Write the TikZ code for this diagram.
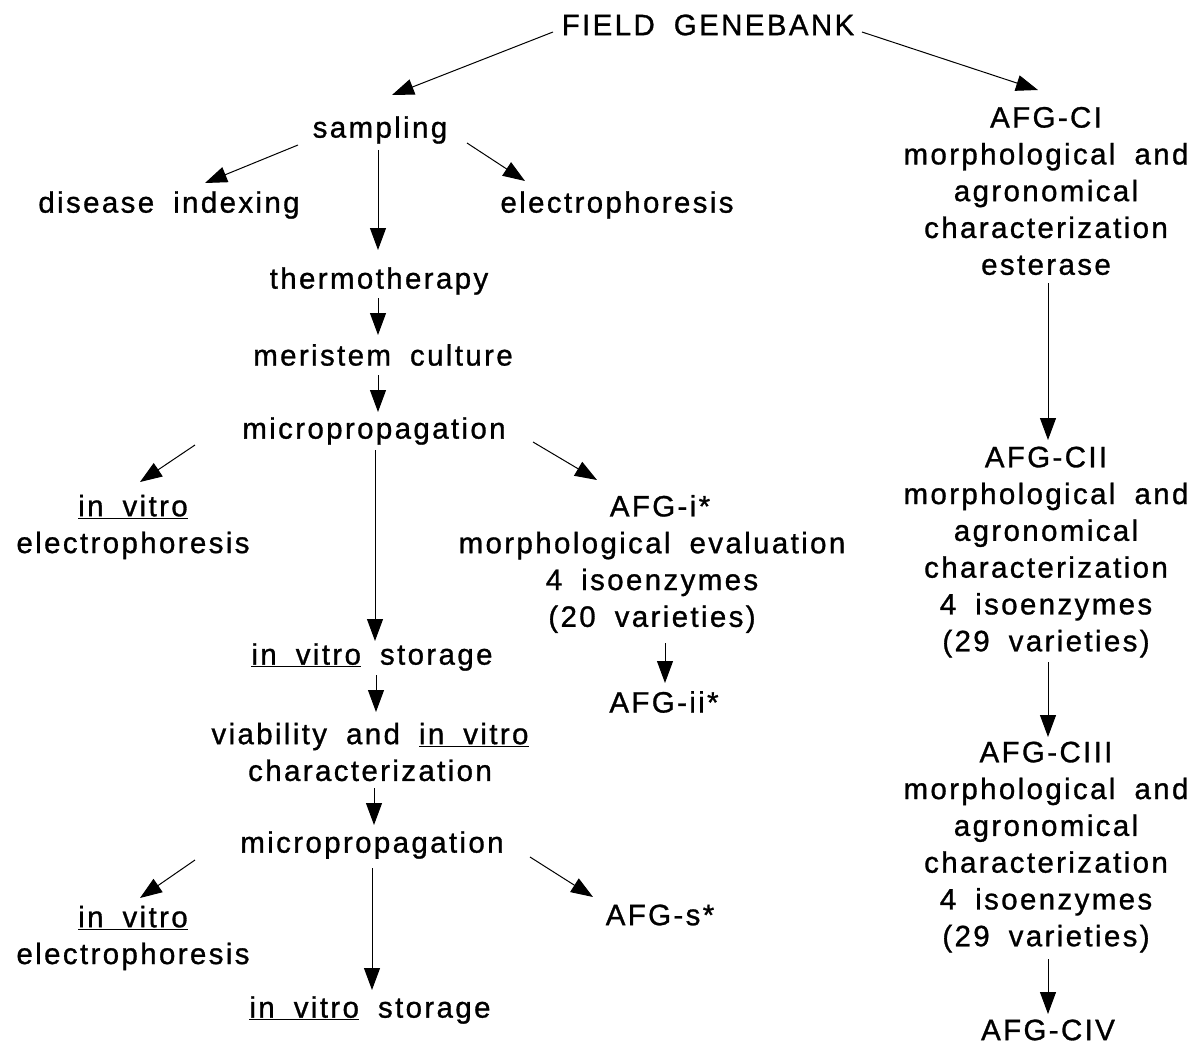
\documentclass[tikz,border=0pt]{standalone}
\usepackage{fontspec}
\setmainfont{Liberation Sans}[LetterSpace=8,WordSpace=1.8,FakeBold=1]
\usetikzlibrary{arrows.meta,calc}
\begin{document}
\begin{tikzpicture}[x=1pt,y=-1pt,
  lbl/.style={inner sep=0pt, align=center, font=\fontsize{29.5}{36.8}\selectfont},
  arr/.style={-{Triangle[length=22pt,width=16pt]}, line width=1pt}]
\useasboundingbox (0,0) rectangle (1199,1046);
% left column
\node[lbl] (fg) at (708,25) {FIELD GENEBANK};
\node[lbl] (samp) at (380,130) {sampling};
\node[lbl] (dis) at (169,205) {disease indexing};
\node[lbl] (ele) at (617,205) {electrophoresis};
\node[lbl] (thermo) at (379,281) {thermotherapy};
\node[lbl] (meri) at (383,355) {meristem culture};
\node[lbl] (mpa) at (374,431) {micropropagation};
\node[lbl] (ivla) at (133,527) {\underline{in vitro}\\electrophoresis};
\node[lbl] (afgi) at (652,564) {\hspace*{16pt}AFG-i*\\morphological evaluation\hspace*{40pt}\\4 isoenzymes\\(20 varieties)};
\node[lbl] (stoa) at (372,657) {\underline{in vitro} storage};
\node[lbl] (afgii) at (664,702) {AFG-ii*};
\node[lbl] (via) at (370,752) {viability and \underline{in vitro}\\characterization};
\node[lbl] (mpb) at (372,845) {micropropagation};
\node[lbl] (ivlb) at (133,938) {\underline{in vitro}\\electrophoresis};
\node[lbl] (afgs) at (660,915) {AFG-s*};
\node[lbl] (stob) at (370,1010) {\underline{in vitro} storage};
% right column
\node[lbl] (ca) at (1046,191) {AFG-CI\\morphological and\\agronomical\\characterization\\esterase};
\node[lbl] (cb) at (1046,552) {AFG-CII\\morphological and\\agronomical\\characterization\\4 isoenzymes\\(29 varieties)};
\node[lbl] (cc) at (1046,847) {AFG-CIII\\morphological and\\agronomical\\characterization\\4 isoenzymes\\(29 varieties)};
\node[lbl] (cd) at (1048,1030) {AFG-CIV};
% connectors
\draw[arr] ($(fg)+(-155,7)$) -- ($(samp)+(12,-35)$);
\draw[arr] ($(fg)+(154,7)$) -- ($(ca)+(-8,-101)$);
\draw[arr] ($(samp)+(-82,15)$) -- ($(dis)+(36,-22)$);
\draw[arr] ($(samp)+(87,13)$) -- ($(ele)+(-92,-24)$);
\draw[arr] ($(samp)+(-2,20)$) -- ($(thermo)+(-1,-31)$);
\draw[arr] ($(thermo)+(-1,17)$) -- ($(meri)+(-5,-20)$);
\draw[arr] ($(meri)+(-5,20)$) -- ($(mpa)+(4,-19)$);
\draw[arr] ($(mpa)+(-179,14)$) -- ($(ivla)+(7,-45)$);
\draw[arr] ($(mpa)+(159,11)$) -- ($(afgi)+(-55,-84)$);
\draw[arr] ($(mpa)+(1,19)$) -- ($(stoa)+(3,-16)$);
\draw[arr] ($(stoa)+(4,18)$) -- ($(via)+(6,-40)$);
\draw[arr] ($(afgi)+(13,79)$) -- ($(afgii)+(1,-19)$);
\draw[arr] ($(via)+(4,36)$) -- ($(mpb)+(2,-20)$);
\draw[arr] ($(mpb)+(-177,15)$) -- ($(ivlb)+(7,-40)$);
\draw[arr] ($(mpb)+(158,12)$) -- ($(afgs)+(-67,-18)$);
\draw[arr] ($(mpb)+(0,23)$) -- ($(stob)+(2,-20)$);
\draw[arr] ($(ca)+(2,92)$) -- ($(cb)+(2,-112)$);
\draw[arr] ($(cb)+(2,110)$) -- ($(cc)+(2,-110)$);
\draw[arr] ($(cc)+(2,112)$) -- ($(cd)+(0,-16)$);
\end{tikzpicture}
\end{document}
